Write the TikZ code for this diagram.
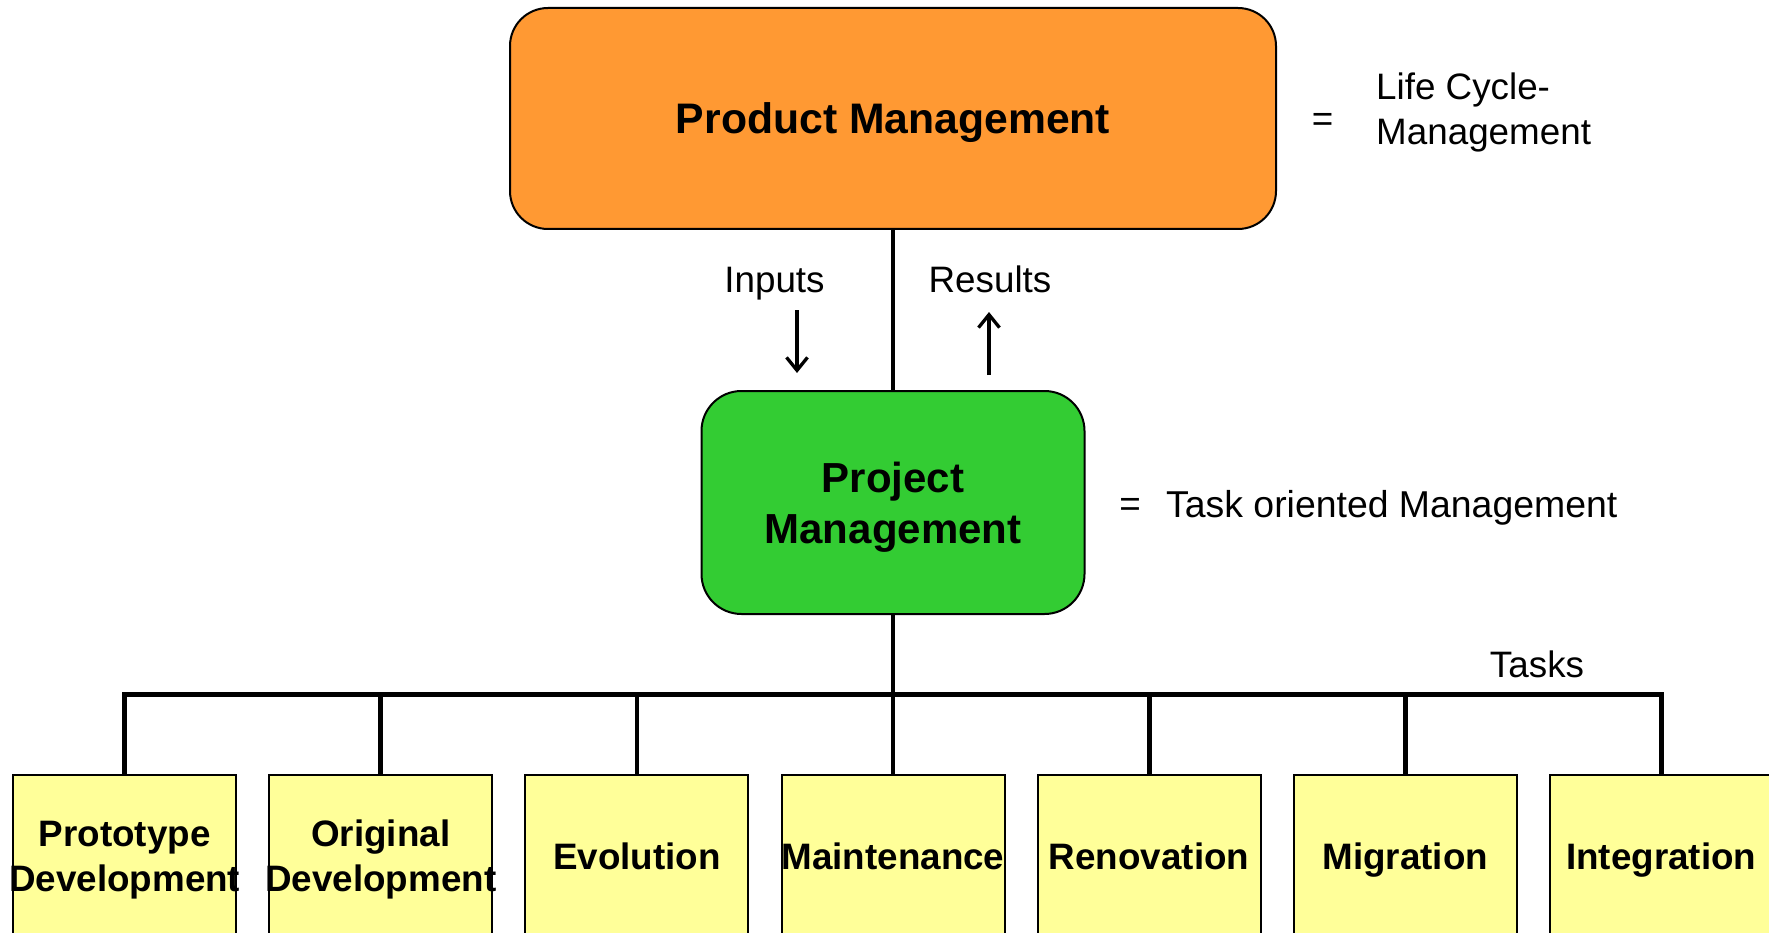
\documentclass[tikz,border=0pt]{standalone}
\usepackage{fontspec}
\setmainfont{Liberation Sans}
\usetikzlibrary{arrows.meta}
\definecolor{pmorange}{HTML}{FF9933}
\definecolor{pjgreen}{HTML}{33CC33}
\definecolor{taskyellow}{HTML}{FFFF99}
\begin{document}
\begin{tikzpicture}[x=1pt,y=-1pt,
  conn/.style={line width=4.8pt},
  arr/.style={line width=3.3pt,-{Straight Barb[length=13pt,width=21pt]}},
  roundbox/.style={draw=black,line width=2pt,inner sep=0pt},
  taskbox/.style={draw=black,line width=2pt,fill=taskyellow,minimum width=223pt,minimum height=162pt,inner sep=0pt},
  boldtxt/.style={inner sep=0pt,font=\fontsize{42}{51}\selectfont\bfseries},
  tasktxt/.style={inner sep=0pt,font=\fontsize{36.8}{45}\selectfont\bfseries},
  plaintxt/.style={inner sep=0pt,font=\fontsize{36.8}{45}\selectfont},
]
\useasboundingbox (0,0) rectangle (1769,933);
\clip (0,0) rectangle (1769,933);

% main boxes
\node[roundbox,fill=pmorange,rounded corners=38pt,minimum width=766pt,minimum height=221pt] (pm) at (893,118.5) {};
\node[boldtxt,anchor=base,font=\fontsize{42.7}{51}\selectfont\bfseries] (pmtxt) at (893,133.5) {Product Management};

\node[roundbox,fill=pjgreen,rounded corners=40pt,minimum width=383pt,minimum height=223pt] (proj) at (893,502.5) {};
\node[boldtxt,anchor=base] (projtxt1) at (893,492) {Project};
\node[boldtxt,anchor=base] (projtxt2) at (893,543) {Management};

% inputs / results
\node[plaintxt,anchor=base] (inputs) at (774.5,292) {Inputs};
\node[plaintxt,anchor=base] (results) at (990,292) {Results};
\coordinate (inA) at (797,310);
\coordinate (inB) at (797,373);
\coordinate (resA) at (989,375);
\coordinate (resB) at (989,312);
\draw[arr] (inA) -- (inB);
\draw[arr] (resA) -- (resB);

% right-hand labels
\node[plaintxt] (eq1) at (1322.5,122.5) {=};
\node[plaintxt,anchor=base west] (lc1) at (1376,100) {Life Cycle-};
\node[plaintxt,anchor=base west] (lc2) at (1376,145) {Management};
\node[plaintxt] (eq2) at (1130,507) {=};
\node[plaintxt,anchor=base west,font=\fontsize{37.4}{45}\selectfont] (tom) at (1166,517) {Task oriented Management};
\node[plaintxt,anchor=base] (tasks) at (1537,677) {Tasks};

% task boxes
\foreach \i/\x in {1/124.7,2/380.8,3/636.9,4/893,5/1149.1,6/1405.2,7/1661.3}
  \node[taskbox] (t\i) at (\x,855.5) {};

\node[tasktxt,anchor=base] (t1a) at (124.7,846.5) {Prototype};
\node[tasktxt,anchor=base] (t1b) at (124.7,891.5) {Development};
\node[tasktxt,anchor=base] (t2a) at (380.8,846.5) {Original};
\node[tasktxt,anchor=base] (t2b) at (380.8,891.5) {Development};
\node[tasktxt,anchor=base] (t3a) at (636.9,869) {Evolution};
\node[tasktxt,anchor=base] (t4a) at (893,869) {Maintenance};
\node[tasktxt,anchor=base] (t5a) at (1149.1,869) {Renovation};
\node[tasktxt,anchor=base] (t6a) at (1405.2,869) {Migration};
\node[tasktxt,anchor=base] (t7a) at (1661.3,869) {Integration};

% connectors
\coordinate (bus) at (893,694.3);
\draw[conn] (pm.south) -- (proj.north);
\draw[conn] (proj.south) -- (bus);
\draw[conn] (t1.north) -- (t1.north |- bus) -- (t7.north |- bus) -- (t7.north);
\foreach \i in {2,...,6}
  \draw[conn] (t\i.north) -- (t\i.north |- bus);
\end{tikzpicture}
\end{document}
